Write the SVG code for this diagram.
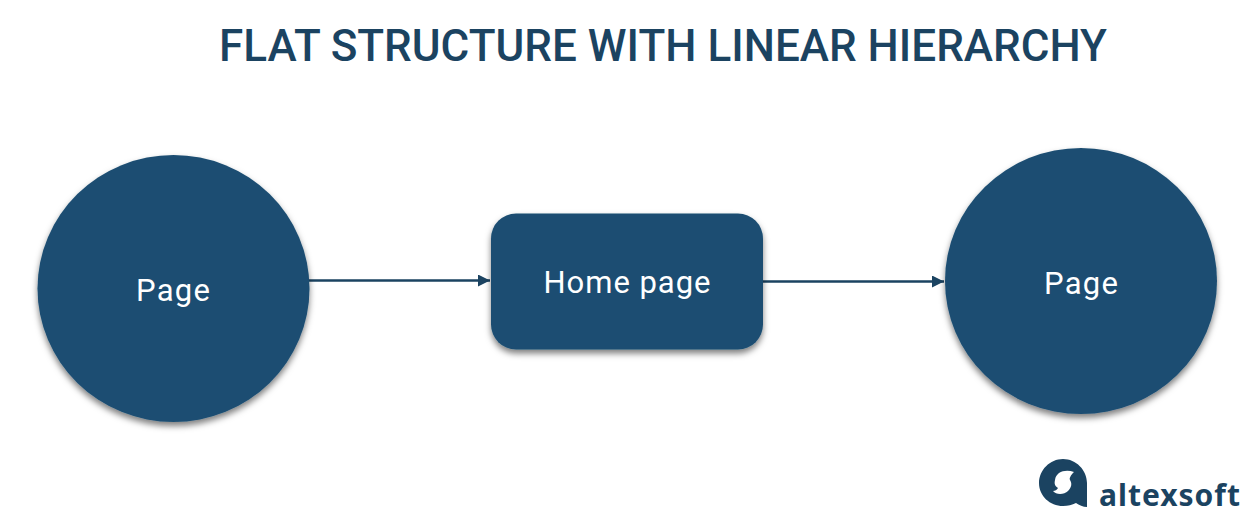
<svg xmlns="http://www.w3.org/2000/svg" width="1257" height="524" viewBox="0 0 1257 524">
<style>
.shape{fill:#1c4e72;filter:url(#sh)}
.lbl{font-family:Roboto,"Noto Sans",sans-serif;font-weight:400;font-size:31px;fill:#fff;text-anchor:middle}
.title{font-family:Roboto,"Noto Sans",sans-serif;font-weight:500;font-size:44px;fill:#1b4361;text-anchor:middle}
.conn{stroke:#1b4361;stroke-width:2.6;fill:none;marker-end:url(#arr)}
.logo{font-family:"Noto Sans",sans-serif;font-weight:700;font-size:30px;fill:#1b4361}
</style>
<defs>
<filter id="sh" x="-10%" y="-10%" width="120%" height="125%"><feDropShadow dx="0" dy="4" stdDeviation="3" flood-color="#000" flood-opacity=".5"/></filter>
<marker id="arr" markerUnits="userSpaceOnUse" markerWidth="12" markerHeight="12" refX="12" refY="6" orient="auto"><path d="M0 0L12 6L0 12z" fill="#1b4361"/></marker>
</defs>
<rect width="1257" height="524" fill="#fff"/>
<text class="title" x="663" y="61" textLength="888" lengthAdjust="spacing">FLAT STRUCTURE WITH LINEAR HIERARCHY</text>
<g id="connectors">
<path class="conn" d="M309 280.500H490"/>
<path class="conn" d="M763 281.500H944"/>
</g>
<g id="page-left"><ellipse class="shape" cx="173.500" cy="288.500" rx="136" ry="133.500"/><text class="lbl" x="173" y="301" textLength="74" lengthAdjust="spacing">Page</text></g>
<g id="home-page"><rect class="shape" x="491" y="213.500" width="272" height="136" rx="25"/><text class="lbl" x="627" y="293" textLength="167" lengthAdjust="spacing">Home page</text></g>
<g id="page-right"><ellipse class="shape" cx="1081" cy="281" rx="136" ry="133"/><text class="lbl" x="1081" y="294" textLength="74" lengthAdjust="spacing">Page</text></g>
<g id="logo">
<path fill="#1b4361" d="M1063 459C1076 459 1087 470 1087 483V507C1083 507 1079 505 1076 503C1072 505 1068 506 1063 506C1050 506 1039 496 1039 483C1039 470 1050 459 1063 459Z"/>
<path fill="#fff" d="M1074 472C1065 469 1056 472 1055 480C1054 484 1055 486 1058 488C1057 490 1055 491 1053 491C1056 495 1064 495 1068 491C1072 487 1072 483 1070 480C1069 478 1071 475 1074 472Z"/>
<text class="logo" x="1099" y="506" textLength="141" lengthAdjust="spacing">altexsoft</text>
</g>
</svg>
